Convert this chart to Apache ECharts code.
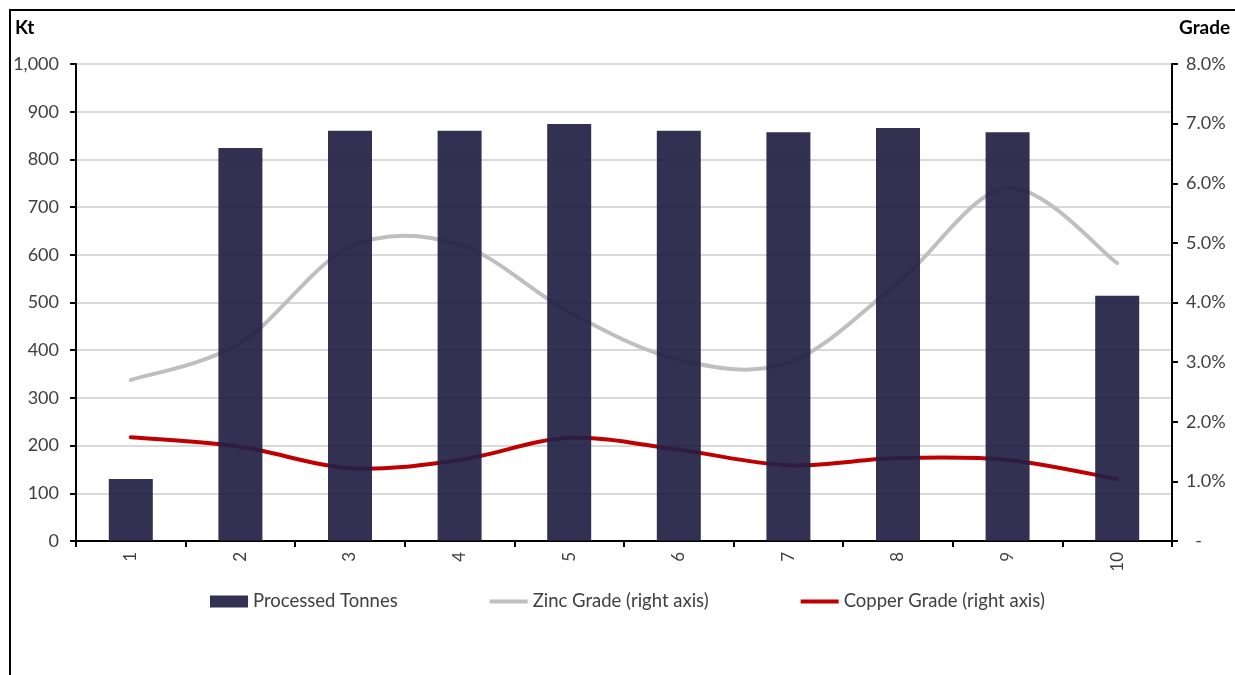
<!DOCTYPE html>
<html>
<head>
<meta charset="utf-8">
<script src="https://cdn.jsdelivr.net/npm/echarts@6/dist/echarts.min.js"></script>
<style>
  html, body { margin: 0; padding: 0; background: #fff; }
  #chart { width: 1235px; height: 675px; }
</style>
</head>
<body>
<div id="chart"></div>
<script>
// Periods on the category axis
const periods = ['1', '2', '3', '4', '5', '6', '7', '8', '9', '10'];
// Processed tonnes (Kt), left axis
const processedTonnes = [130, 824, 860, 860, 874, 860, 857, 866, 857, 514];
// Grades (%), right axis
const zincGrade = [2.70, 3.32, 4.93, 4.97, 3.84, 3.04, 2.99, 4.33, 5.92, 4.66];
const copperGrade = [1.74, 1.58, 1.22, 1.36, 1.73, 1.53, 1.27, 1.39, 1.36, 1.04];

const FONT = 'Lato, "Liberation Sans", Arial, sans-serif';
const TEXT = '#404040';
const LINE_ICON = 'path://M0,0H40V4H0Z';

// Grade line drawn as a Catmull-Rom style curve; each data item draws the
// segment from its point to the next one, positioned through the axes.
function gradeCurve(name, values, color) {
  return {
    name: name,
    type: 'custom',
    yAxisIndex: 1,
    z: 2,
    itemStyle: { color: color },
    data: values.map((v, i) => [i, v]),
    encode: { x: 0, y: 1 },
    renderItem: function (params, api) {
      const i = params.dataIndex;
      const n = values.length;
      if (i >= n - 1) return null;
      const pt = k => {
        const j = Math.max(0, Math.min(n - 1, k));
        return api.coord([j, values[j]]);
      };
      const p0 = pt(i - 1), p1 = pt(i), p2 = pt(i + 1), p3 = pt(i + 2);
      return {
        type: 'bezierCurve',
        shape: {
          x1: p1[0], y1: p1[1],
          x2: p2[0], y2: p2[1],
          cpx1: p1[0] + (p2[0] - p0[0]) / 6,
          cpy1: p1[1] + (p2[1] - p0[1]) / 6,
          cpx2: p2[0] - (p3[0] - p1[0]) / 6,
          cpy2: p2[1] - (p3[1] - p1[1]) / 6
        },
        style: { fill: 'none', stroke: color, lineWidth: 4, lineCap: 'round' }
      };
    }
  };
}

const chart = echarts.init(document.getElementById('chart'));

chart.setOption({
  animation: false,
  backgroundColor: '#fff',
  textStyle: { fontFamily: FONT },
  grid: { left: 76, right: 63, top: 64, bottom: 134 },
  legend: {
    top: 587,
    left: 205,
    itemGap: 92,
    itemWidth: 38,
    itemHeight: 12,
    symbolKeepAspect: true,
    textStyle: { fontFamily: FONT, fontSize: 18.5, color: TEXT },
    data: [
      { name: 'Processed Tonnes', icon: 'rect' },
      { name: 'Zinc Grade (right axis)', icon: LINE_ICON },
      { name: 'Copper Grade (right axis)', icon: LINE_ICON }
    ]
  },
  xAxis: {
    type: 'category',
    data: periods,
    boundaryGap: true,
    axisLine: { lineStyle: { color: '#000', width: 2 } },
    axisTick: { show: true, length: 6, lineStyle: { color: '#000', width: 2 } },
    axisLabel: { rotate: 90, fontSize: 17, color: TEXT, margin: 11, fontFamily: FONT },
    splitLine: { show: false }
  },
  yAxis: [
    {
      type: 'value',
      min: 0, max: 1000, interval: 100,
      axisLine: { show: true, lineStyle: { color: '#000', width: 2 } },
      axisTick: { show: true, length: 6, lineStyle: { color: '#000', width: 2 } },
      axisLabel: {
        fontSize: 18, color: TEXT, margin: 17, fontFamily: FONT,
        formatter: v => v.toLocaleString('en-US')
      },
      splitLine: { show: true, lineStyle: { color: '#d9d9d9', width: 2 } }
    },
    {
      type: 'value',
      min: 0, max: 8, interval: 1,
      position: 'right',
      axisLine: { show: true, lineStyle: { color: '#000', width: 2 } },
      axisTick: { show: true, length: 6, lineStyle: { color: '#000', width: 2 } },
      axisLabel: {
        fontSize: 18, color: TEXT, margin: 14, fontFamily: FONT,
        formatter: v => v === 0 ? '  -' : v.toFixed(1) + '%'
      },
      splitLine: { show: false }
    }
  ],
  series: [
    gradeCurve('Zinc Grade (right axis)', zincGrade, '#bfbfbf'),
    gradeCurve('Copper Grade (right axis)', copperGrade, '#c00000'),
    {
      name: 'Processed Tonnes',
      type: 'bar',
      data: processedTonnes,
      barWidth: 44,
      z: 3,
      itemStyle: { color: '#222043', opacity: 0.92 }
    }
  ],
  graphic: [
    {
      type: 'rect',
      shape: { x: 10, y: 10, width: 1240, height: 680 },
      style: { fill: 'none', stroke: '#000', lineWidth: 2 },
      silent: true
    },
    {
      type: 'text', left: 15, top: 18,
      style: { text: 'Kt', font: 'bold 19px ' + FONT, fill: '#000' }
    },
    {
      type: 'text', left: 1179, top: 18,
      style: { text: 'Grade', font: 'bold 19px ' + FONT, fill: '#000' }
    }
  ]
});
</script>
</body>
</html>
